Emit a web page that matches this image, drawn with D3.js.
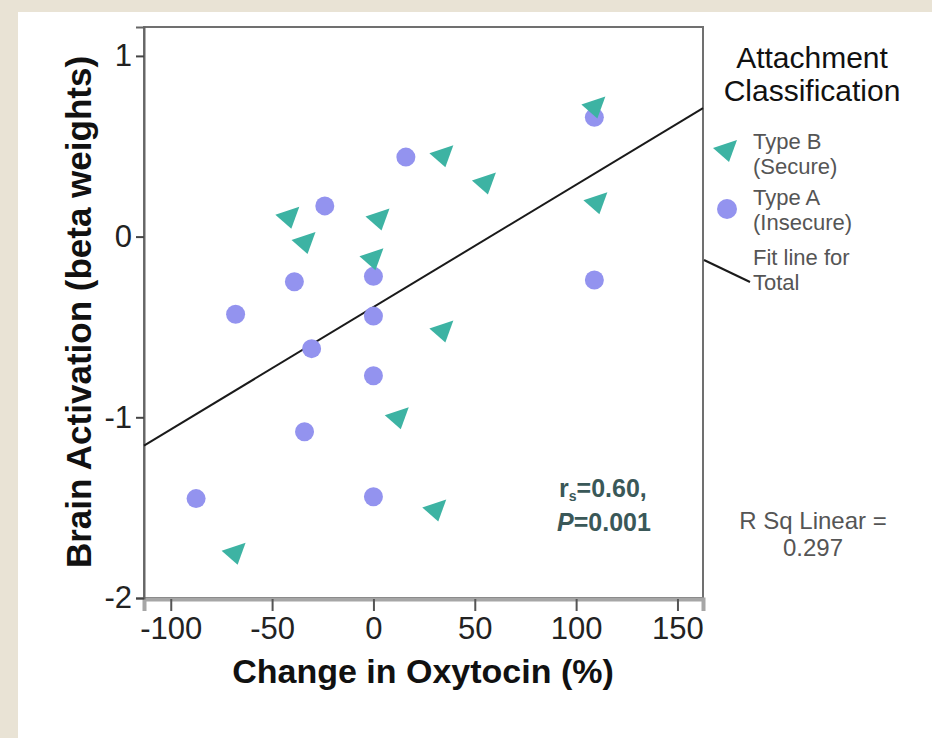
<!DOCTYPE html>
<html>
<head>
<meta charset="utf-8">
<script src="https://cdn.jsdelivr.net/npm/d3@7"></script>
<style>
  html, body { margin: 0; padding: 0; background: #e9e3d5; }
  svg { display: block; }
</style>
</head>
<body>
<script>
// ---- data ----
const typeBX = [109, 34, 55, -42, 2.5, -34, -0.5, 110, 34, 12, 30.5, -68.5];
const typeBY = [0.72, 0.45, 0.30, 0.11, 0.10, -0.03, -0.12, 0.19, -0.52, -1.00, -1.51, -1.75];
const typeAX = [109, 16, -24, -39, 0, 109, -68, 0, -30.5, 0, -34, -87.5, 0];
const typeAY = [0.66, 0.44, 0.17, -0.25, -0.22, -0.24, -0.43, -0.44, -0.62, -0.77, -1.08, -1.45, -1.44];
const fitIntercept = -0.39;
const fitSlope = 0.00677;
const xTicks = [-100, -50, 0, 50, 100, 150];
const yTicks = [1, 0, -1, -2];
const legendLabels = [["Type B", "(Secure)"], ["Type A", "(Insecure)"], ["Fit line for", "Total"]];
const legendTitle = ["Attachment", "Classification"];
const rsqLabel = ["R Sq Linear =", "0.297"];

const W = 932, H = 738;
const font = "'Liberation Sans', Arial, sans-serif";
const teal = "#3db3a3", lav = "#9393ef";

const svg = d3.select("body").append("svg").attr("width", W).attr("height", H);
svg.append("rect").attr("width", W).attr("height", H).attr("fill", "#e9e3d5");
svg.append("rect").attr("x", 18).attr("y", 12).attr("width", W - 18).attr("height", H - 12).attr("fill", "#ffffff");

const plot = {left: 144, right: 703, top: 27, bottom: 598};
const x = d3.scaleLinear().domain([-113.2, 162.6]).range([plot.left, plot.right]);
const y = d3.scaleLinear().domain([-2, 1.16]).range([plot.bottom, plot.top]);

// frame
svg.append("rect").attr("x", plot.left).attr("y", plot.top)
  .attr("width", plot.right - plot.left).attr("height", plot.bottom - plot.top)
  .attr("fill", "#fff").attr("stroke", "#707070").attr("stroke-width", 2);

// axes (hyphen-minus labels as in the reference)
const fmt = d => String(d);
const xAxis = d3.axisBottom(x).tickValues(xTicks).tickSize(12).tickPadding(6).tickFormat(fmt);
const gx = svg.append("g").attr("transform", `translate(0,${plot.bottom + 1})`).call(xAxis);
gx.select(".domain").attr("stroke", "#a6a6a6").attr("stroke-width", 4);
gx.selectAll(".tick line").attr("stroke", "#555").attr("stroke-width", 2);
gx.selectAll(".tick text").attr("font-family", font).attr("font-size", 31).attr("fill", "#222");

const yAxis = d3.axisLeft(y).tickValues(yTicks).tickSize(8).tickPadding(4).tickFormat(fmt);
const gy = svg.append("g").attr("transform", `translate(${plot.left},0)`).call(yAxis);
gy.select(".domain").attr("stroke", "#666").attr("stroke-width", 2);
gy.selectAll(".tick line").attr("stroke", "#444").attr("stroke-width", 2);
gy.selectAll(".tick text").attr("font-family", font).attr("font-size", 31).attr("fill", "#222");

// axis titles
svg.append("text").attr("x", 423).attr("y", 683).attr("text-anchor", "middle")
  .attr("font-family", font).attr("font-weight", "bold").attr("font-size", 34).attr("fill", "#111")
  .text("Change in Oxytocin (%)");
svg.append("text").attr("transform", "translate(91,312) rotate(-90)").attr("text-anchor", "middle")
  .attr("font-family", font).attr("font-weight", "bold").attr("font-size", 35).attr("fill", "#111")
  .text("Brain Activation (beta weights)");

// fit line
const [x0, x1] = x.domain();
svg.append("line")
  .attr("x1", x(x0)).attr("y1", y(fitIntercept + fitSlope * x0))
  .attr("x2", x(x1)).attr("y2", y(fitIntercept + fitSlope * x1))
  .attr("stroke", "#1a1a1a").attr("stroke-width", 2);

// markers
const triPath = "M-13,-2 L11,-10 L3,12 Z";
svg.append("g").selectAll("circle").data(d3.range(typeAX.length)).join("circle")
  .attr("cx", i => x(typeAX[i])).attr("cy", i => y(typeAY[i])).attr("r", 9.5).attr("fill", lav);
svg.append("g").selectAll("path").data(d3.range(typeBX.length)).join("path")
  .attr("d", triPath).attr("transform", i => `translate(${x(typeBX[i])},${y(typeBY[i])})`).attr("fill", teal);

// annotation
const ann = svg.append("text").attr("x", 559).attr("y", 497).attr("font-family", font)
  .attr("font-weight", "bold").attr("font-size", 25).attr("fill", "#3a5858");
ann.append("tspan").text("r");
ann.append("tspan").attr("font-size", 14).attr("dy", 4).text("s");
ann.append("tspan").attr("dy", -4).text("=0.60,");
const ann2 = svg.append("text").attr("x", 557).attr("y", 531).attr("font-family", font)
  .attr("font-weight", "bold").attr("font-size", 25).attr("fill", "#3a5858");
ann2.append("tspan").attr("font-style", "italic").text("P");
ann2.append("tspan").text("=0.001");

// legend
svg.append("g").selectAll("text").data(legendTitle).join("text")
  .attr("x", 812).attr("y", (d, i) => 68 + i * 33).attr("text-anchor", "middle")
  .attr("font-family", font).attr("font-size", 30).attr("fill", "#111").text(d => d);

const lg = svg.append("g");
lg.append("path").attr("d", triPath).attr("transform", "translate(726,150)").attr("fill", teal);
lg.append("circle").attr("cx", 727).attr("cy", 209).attr("r", 10).attr("fill", lav);
lg.append("line").attr("x1", 704).attr("y1", 260).attr("x2", 750).attr("y2", 282)
  .attr("stroke", "#1a1a1a").attr("stroke-width", 2);
const legBase = [149, 205, 265];
legendLabels.forEach((lines, k) => {
  lines.forEach((t, j) => {
    lg.append("text").attr("x", 753).attr("y", legBase[k] + j * 25)
      .attr("font-family", font).attr("font-size", 22).attr("fill", "#555").text(t);
  });
});

// R Sq label
svg.append("g").selectAll("text").data(rsqLabel).join("text")
  .attr("x", 813).attr("y", (d, i) => 529 + i * 27).attr("text-anchor", "middle")
  .attr("font-family", font).attr("font-size", 24).attr("fill", "#555").text(d => d);
</script>
</body>
</html>
